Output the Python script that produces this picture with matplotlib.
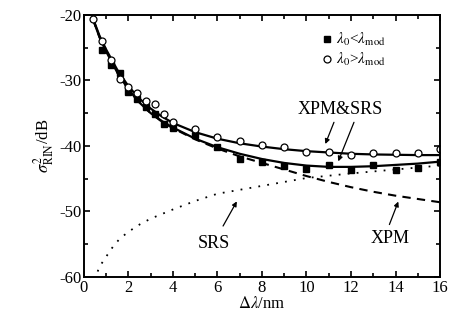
import numpy as np
import matplotlib
matplotlib.use("Agg")
import matplotlib.pyplot as plt
from matplotlib.ticker import MultipleLocator

plt.rcParams['font.family'] = ['Liberation Serif', 'DejaVu Serif']
plt.rcParams['mathtext.fontset'] = 'stix'
plt.rcParams['axes.unicode_minus'] = False

x_sq = [0.8, 1.2, 1.6, 2.0, 2.4, 2.8, 3.2, 3.6, 4.0, 5, 6, 7, 8, 9, 10, 11, 12, 13, 14, 15, 16]
y_sq = [-25.3, -27.6, -28.9, -31.7, -32.9, -34.1, -35.1, -36.7, -37.2, -38.4, -40.1, -42.0,
        -42.5, -43.0, -43.5, -42.9, -43.7, -42.9, -43.7, -43.4, -42.5]
x_ci = [0.4, 0.8, 1.2, 1.6, 2.0, 2.4, 2.8, 3.2, 3.6, 4.0, 5, 6, 7, 8, 9, 10, 11, 12, 13, 14, 15, 16]
y_ci = [-20.6, -24.0, -26.9, -29.8, -31.0, -31.9, -33.2, -33.6, -35.1, -36.4, -37.4, -38.7,
        -39.2, -39.8, -40.2, -40.9, -41.0, -41.4, -41.1, -41.1, -41.1, -40.4]

# simulated curves
x_up = [0.4, 0.7, 1.0, 1.5, 2.0, 2.5, 3.0, 3.5, 4.0, 5, 6, 7, 8, 9, 10, 11, 12, 13, 14, 15, 16]
y_up = [-20.5, -23.2, -25.3, -28.4, -30.9, -32.8, -34.3, -35.5, -36.5, -37.9, -38.9, -39.6,
        -40.1, -40.5, -40.8, -41.0, -41.2, -41.3, -41.35, -41.4, -41.4]
x_tot = [0.4, 0.7, 1.0, 1.5, 2.0, 2.5, 3.0, 3.5, 4.0, 5, 6, 7, 8, 9, 10, 11, 12, 13, 14, 15, 16]
y_tot = [-20.6, -23.4, -25.6, -28.8, -31.4, -33.4, -35.0, -36.2, -37.2, -38.9, -40.2, -41.2,
         -42.0, -42.6, -43.0, -43.2, -43.2, -43.1, -42.9, -42.7, -42.4]
x_xpm = [0.4, 0.7, 1.0, 1.5, 2.0, 2.5, 3.0, 3.5, 4.0, 5, 6, 7, 8, 9, 10, 11, 12, 13, 14, 15, 16]
y_xpm = [-20.6, -23.4, -25.6, -28.8, -31.4, -33.4, -35.0, -36.3, -37.3, -39.0, -40.4, -41.6,
         -42.6, -43.6, -44.6, -45.5, -46.3, -47.0, -47.6, -48.1, -48.6]
x_srs = [0.5, 0.67, 0.9, 1.3, 1.6, 2.0, 2.5, 3.0, 3.5, 4.0, 5, 6, 7, 8, 10, 12, 14, 16]
y_srs = [-60.5, -58.6, -57.4, -55.4, -54.2, -53.1, -52.0, -51.1, -50.4, -49.7, -48.4, -47.3,
         -46.7, -46.1, -44.9, -44.2, -43.6, -43.0]

fig = plt.figure(figsize=(4.49, 3.25), dpi=100)
ax = fig.add_axes([0.187, 0.148, 0.793, 0.806])

ax.plot(x_up, y_up, '-', color='black', lw=1.6)
ax.plot(x_tot, y_tot, '-', color='black', lw=1.6)
ax.plot(x_xpm, y_xpm, color='black', lw=1.5, ls=(0, (4, 3)))
ax.plot(x_srs, y_srs, color='black', lw=1.3, ls=(0, (1, 4)))
sq, = ax.plot(x_sq, y_sq, 's', color='black', ms=4.3, label=r'$\lambda_0$<$\lambda_{\rm mod}$')
ci, = ax.plot(x_ci, y_ci, 'o', mfc='white', mec='black', mew=0.9, ms=5,
              label=r'$\lambda_0$>$\lambda_{\rm mod}$')

ax.set_xlim(0, 16)
ax.set_ylim(-60, -20)
ax.xaxis.set_major_locator(MultipleLocator(2))
ax.xaxis.set_minor_locator(MultipleLocator(1))
ax.yaxis.set_major_locator(MultipleLocator(10))
ax.yaxis.set_minor_locator(MultipleLocator(5))
ax.tick_params(which='both', direction='in', top=True, right=True, labelsize=12, width=1.2)
ax.tick_params(which='major', length=4, pad=2)
ax.tick_params(which='minor', length=3)
for s in ax.spines.values():
    s.set_linewidth(1.4)

ax.set_xlabel(r'$\Delta\lambda$/nm', fontsize=12, labelpad=0)
ax.set_ylabel(r'$\sigma^2_{\rm RIN}$/dB', fontsize=12, labelpad=2)

ax.legend(handles=[sq, ci], loc='upper left', bbox_to_anchor=(0.63, 0.98), frameon=False,
          fontsize=11, handletextpad=0.1, handlelength=1.0, labelspacing=0.2, borderpad=0.2)

arr = dict(arrowstyle='-|>', color='black', lw=0.9, mutation_scale=7)
ax.text(11.5, -34.4, 'XPM&SRS', fontsize=13, ha='center', va='center')
ax.annotate('', xy=(10.8, -40.1), xytext=(11.28, -36.0), arrowprops=arr)
ax.annotate('', xy=(11.38, -42.75), xytext=(12.18, -36.0), arrowprops=arr)
ax.text(5.84, -54.9, 'SRS', fontsize=13, ha='center', va='center')
ax.annotate('', xy=(6.93, -48.1), xytext=(6.19, -52.6), arrowprops=arr)
ax.text(13.75, -54.1, 'XPM', fontsize=13, ha='center', va='center')
ax.annotate('', xy=(14.17, -48.1), xytext=(13.68, -52.4), arrowprops=arr)

fig.savefig('out.png', dpi=100)
